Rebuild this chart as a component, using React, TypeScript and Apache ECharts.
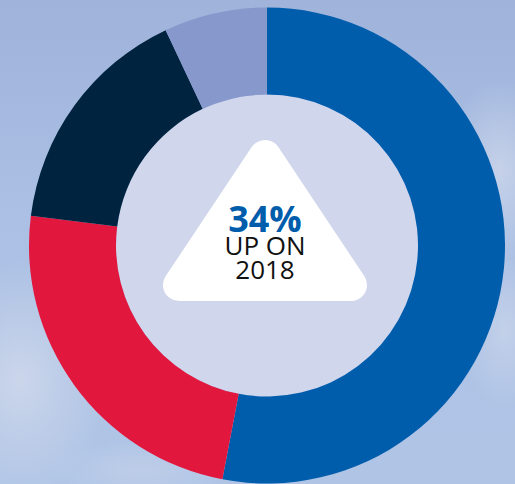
import React, { useEffect, useRef } from "react";
import * as echarts from "echarts";

const categories = ["Segment A", "Segment B", "Segment C", "Segment D"];
const values = [53, 24, 16, 7];
const colors = ["#005dac", "#e2173e", "#00233f", "#8798cc"];
const headline = "34%";
const subLines = ["UP ON", "2018"];

function cloud(x: number, y: number, rx: number, ry: number, a: number) {
  return {
    type: "ellipse",
    z: -5,
    silent: true,
    shape: { cx: x, cy: y, rx, ry },
    style: {
      fill: new echarts.graphic.RadialGradient(0.5, 0.5, 0.5, [
        { offset: 0, color: `rgba(222,226,238,${a})` },
        { offset: 1, color: "rgba(222,226,238,0)" },
      ]),
    },
  };
}

export default function App() {
  const ref = useRef<HTMLDivElement>(null);
  useEffect(() => {
    if (!ref.current) return;
    const chart = echarts.init(ref.current, null, { renderer: "svg" });
    const cx = 267;
    const cy = 245.5;
    chart.setOption({
      animation: false,
      backgroundColor: new echarts.graphic.LinearGradient(0, 0, 0, 1, [
        { offset: 0, color: "#9fb3db" },
        { offset: 0.45, color: "#abc0e4" },
        { offset: 1, color: "#b0c5e6" },
      ]),
      series: [
        {
          type: "pie",
          center: [cx, cy],
          radius: [0, 151],
          silent: true,
          label: { show: false },
          labelLine: { show: false },
          data: [{ value: 1, name: "inner", itemStyle: { color: "#d0d6ec" } }],
        },
        {
          type: "pie",
          center: [cx, cy],
          radius: [151, 238],
          startAngle: 90,
          clockwise: true,
          label: { show: false },
          labelLine: { show: false },
          itemStyle: { borderWidth: 0 },
          data: categories.map((n, i) => ({
            name: n,
            value: values[i],
            itemStyle: { color: colors[i] },
          })),
        },
      ],
      graphic: [
        cloud(20, 380, 90, 120, 0.6),
        cloud(500, 170, 55, 90, 0.55),
        cloud(505, 330, 45, 80, 0.45),
        cloud(140, 470, 90, 30, 0.3),
        {
          type: "polygon",
          shape: {
            points: [
              [265, 156],
              [179, 285],
              [351, 285],
            ],
          },
          style: { fill: "#ffffff", stroke: "#ffffff", lineWidth: 32, lineJoin: "round" },
          z: 10,
        },
        {
          type: "text",
          x: 265,
          y: 242,
          z: 11,
          style: {
            text: `{a|${headline}}\n{b|${subLines[0]}}\n{b|${subLines[1]}}`,
            align: "center",
            verticalAlign: "middle",
            rich: {
              a: {
                fill: "#005dac",
                fontFamily: "Open Sans",
                fontWeight: "bold",
                fontSize: 36,
                lineHeight: 30,
                align: "center",
              },
              b: {
                fill: "#111111",
                fontFamily: "Open Sans",
                fontSize: 26,
                lineHeight: 24,
                align: "center",
              },
            },
          },
        },
      ],
    });
    return () => chart.dispose();
  }, []);
  return (
    <div
      ref={ref}
      style={{ position: "absolute", left: 0, top: 0, width: 515, height: 484 }}
    />
  );
}
